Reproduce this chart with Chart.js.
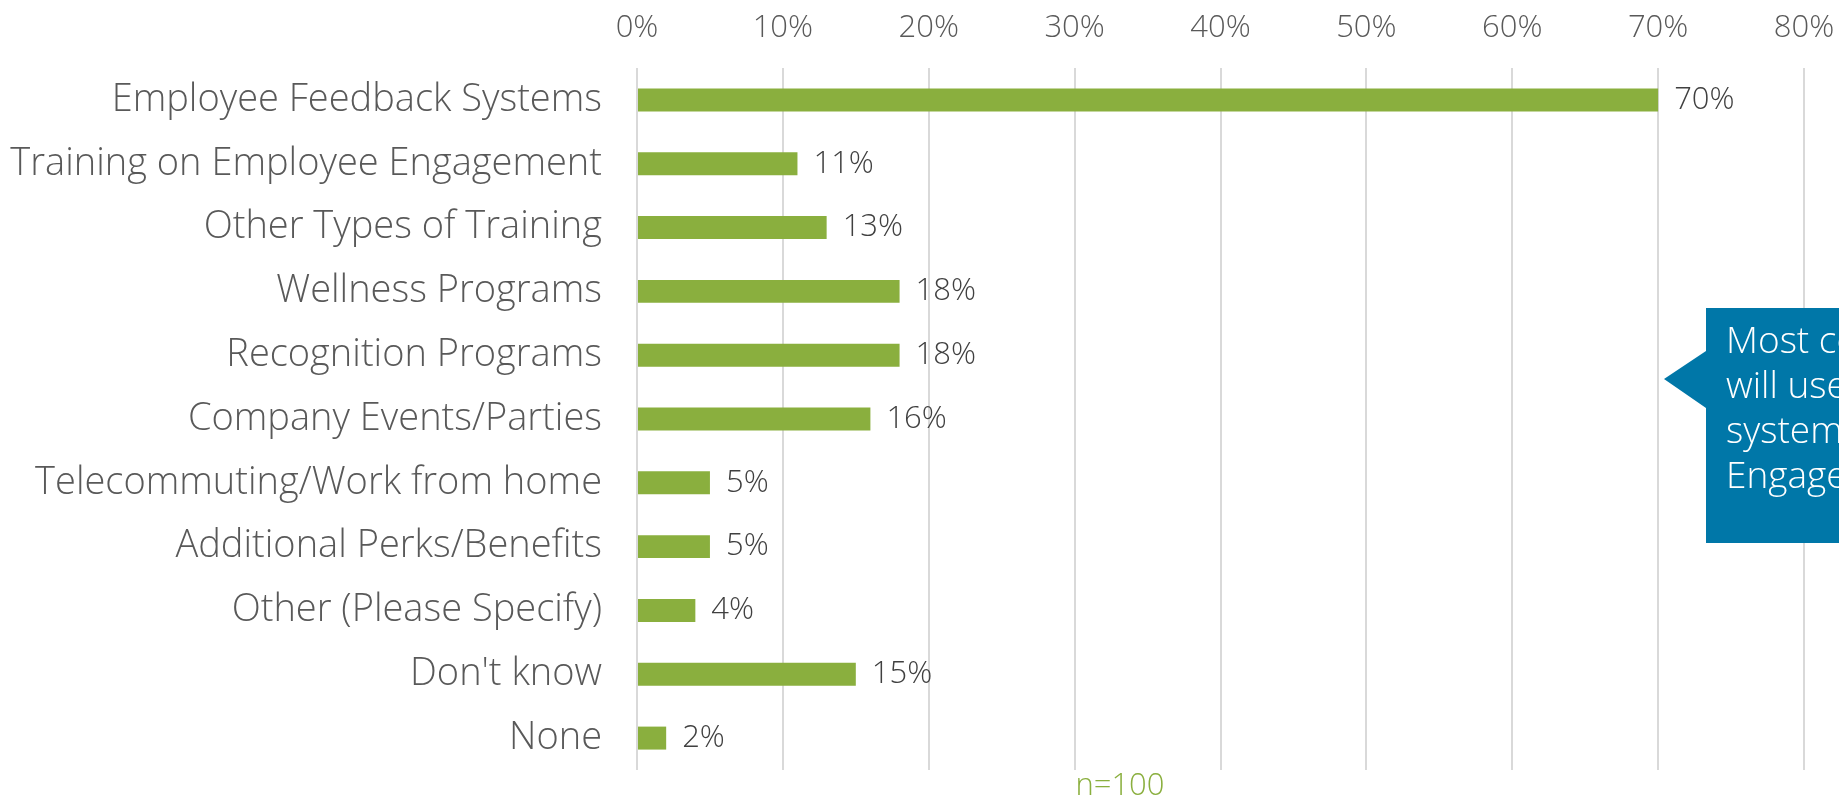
<!DOCTYPE html>
<html>
<head>
<meta charset="utf-8">
<title>Engagement initiatives</title>
<script src="https://cdn.jsdelivr.net/npm/chart.js@4.4.1/dist/chart.umd.min.js"></script>
<style>
  html, body { margin: 0; padding: 0; background: #fff; }
  #wrap { width: 1839px; height: 801px; position: relative; }
</style>
</head>
<body>
<div id="wrap"><canvas id="engagementChart"></canvas></div>
<script>
// Survey answers, top to bottom
const categories = [
    'Employee Feedback Systems',
    'Training on Employee Engagement',
    'Other Types of Training',
    'Wellness Programs',
    'Recognition Programs',
    'Company Events/Parties',
    'Telecommuting/Work from home',
    'Additional Perks/Benefits',
    'Other (Please Specify)',
    "Don't know",
    'None'
];
const percentages = [70, 11, 13, 18, 18, 16, 5, 5, 4, 15, 2];
const axisMax = 80;
const axisStep = 10;
const sampleNote = 'n=100';
const calloutLines = ['Most companies', 'will use feedback', 'systems for', 'Engagement'];

const FONT = "'Open Sans', Lato, sans-serif";
const GREEN = '#8aaf3e';
const GREY_TEXT = '#595959';

// Percentage printed just past the end of each bar
const valueLabels = {
    id: 'valueLabels',
    afterDatasetsDraw(chart) {
        const ctx = chart.ctx;
        const meta = chart.getDatasetMeta(0);
        ctx.save();
        ctx.font = '300 31px ' + FONT;
        ctx.fillStyle = '#404040';
        ctx.textAlign = 'left';
        ctx.textBaseline = 'middle';
        meta.data.forEach((bar, i) => {
            ctx.fillText(percentages[i] + '%', bar.x + 16, bar.y);
        });
        ctx.restore();
    }
};

// Sample size note under the bars and the blue callout on the right
const notes = {
    id: 'notes',
    afterDraw(chart) {
        const ctx = chart.ctx;
        const w = chart.width;
        ctx.save();

        ctx.font = '300 31px ' + FONT;
        ctx.fillStyle = GREEN;
        ctx.textAlign = 'center';
        ctx.textBaseline = 'middle';
        ctx.fillText(sampleNote, w * 0.609, chart.chartArea.bottom + 16);

        const boxLeft = w - 133;
        const boxTop = 308;
        const boxBottom = 543;
        ctx.fillStyle = '#0077a8';
        ctx.beginPath();
        ctx.moveTo(boxLeft, boxTop);
        ctx.lineTo(w, boxTop);
        ctx.lineTo(w, boxBottom);
        ctx.lineTo(boxLeft, boxBottom);
        ctx.lineTo(boxLeft, 408);
        ctx.lineTo(boxLeft - 42, 379);
        ctx.lineTo(boxLeft, 351);
        ctx.closePath();
        ctx.fill();

        ctx.font = '300 37px ' + FONT;
        ctx.fillStyle = '#ffffff';
        ctx.textAlign = 'left';
        ctx.textBaseline = 'alphabetic';
        calloutLines.forEach((line, i) => {
            ctx.fillText(line, boxLeft + 20, 353 + i * 45);
        });
        ctx.restore();
    }
};

const ctx = document.getElementById('engagementChart').getContext('2d');

new Chart(ctx, {
    type: 'bar',
    data: {
        labels: categories,
        datasets: [{
            data: percentages,
            backgroundColor: GREEN,
            borderWidth: 0,
            barPercentage: 0.36,
            categoryPercentage: 1
        }]
    },
    options: {
        indexAxis: 'y',
        responsive: true,
        maintainAspectRatio: false,
        animation: false,
        layout: { padding: { top: 0, right: 35, bottom: 31, left: 0 } },
        scales: {
            x: {
                position: 'top',
                min: 0,
                max: axisMax,
                afterFit: scale => {
                    scale.height = 68;
                    scale.paddingLeft = 0;
                    scale.paddingRight = 0;
                },
                ticks: {
                    stepSize: axisStep,
                    padding: 21,
                    color: GREY_TEXT,
                    font: { family: FONT, size: 31, weight: '300' },
                    callback: v => v + '%'
                },
                grid: { color: '#d9d9d9', lineWidth: 2, drawTicks: false },
                border: { display: false }
            },
            y: {
                afterFit: scale => {
                    scale.width = 637;
                    scale.paddingTop = 0;
                    scale.paddingBottom = 0;
                },
                ticks: {
                    padding: 35,
                    color: GREY_TEXT,
                    font: { family: FONT, size: 38, weight: '300' }
                },
                grid: { display: false, drawTicks: false },
                border: { display: false }
            }
        },
        plugins: {
            legend: { display: false },
            tooltip: { enabled: false }
        }
    },
    plugins: [valueLabels, notes]
});
</script>
</body>
</html>
